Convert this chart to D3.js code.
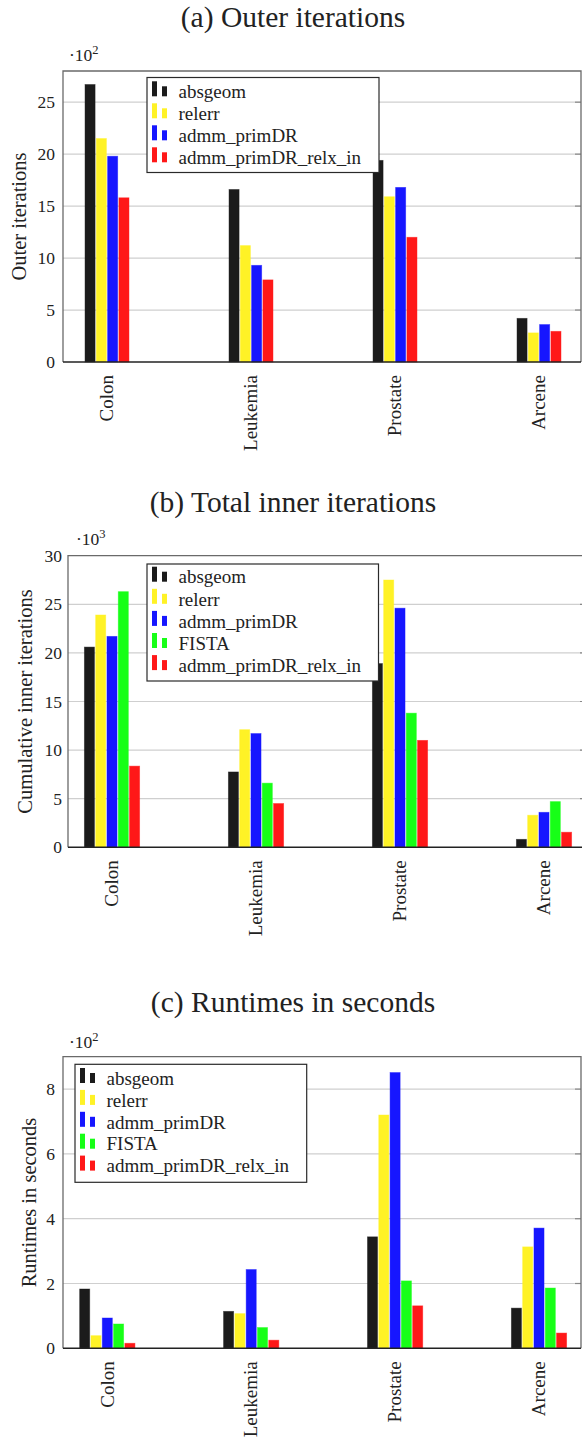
<!DOCTYPE html>
<html>
<head>
<meta charset="utf-8">
<script src="https://cdn.jsdelivr.net/npm/d3@7"></script>
<style>
  html, body { margin: 0; padding: 0; background: #fff; }
  svg text { font-family: "Liberation Serif", "Times New Roman", Times, "DejaVu Serif", serif; fill: #222; }
</style>
</head>
<body>
<svg id="fig" width="582" height="1443"></svg>
<script>
// ---------- data ----------
const categories = ["Colon", "Leukemia", "Prostate", "Arcene"];

const seriesOuter = ["absgeom", "relerr", "admm_primDR", "admm_primDR_relx_in"];
const seriesInner = ["absgeom", "relerr", "admm_primDR", "FISTA", "admm_primDR_relx_in"];
const seriesRuntime = ["absgeom", "relerr", "admm_primDR", "FISTA", "admm_primDR_relx_in"];

// (a) Outer iterations, in units of 10^2
const outerAbsgeom = [26.7, 16.6, 19.4, 4.2];
const outerRelerr = [21.5, 11.2, 15.9, 2.8];
const outerAdmm = [19.8, 9.3, 16.8, 3.6];
const outerRelx = [15.8, 7.9, 12.0, 2.95];

// (b) Total inner iterations, in units of 10^3
const innerAbsgeom = [20.6, 7.75, 18.9, 0.82];
const innerRelerr = [23.9, 12.1, 27.5, 3.3];
const innerAdmm = [21.7, 11.7, 24.6, 3.6];
const innerFista = [26.3, 6.6, 13.8, 4.7];
const innerRelx = [8.35, 4.5, 11.0, 1.55];

// (c) Runtimes in seconds, in units of 10^2
const runAbsgeom = [1.83, 1.14, 3.44, 1.24];
const runRelerr = [0.39, 1.07, 7.2, 3.13];
const runAdmm = [0.935, 2.43, 8.51, 3.71];
const runFista = [0.75, 0.64, 2.08, 1.86];
const runRelx = [0.155, 0.25, 1.31, 0.47];

const outerTicks = [0, 5, 10, 15, 20, 25];
const innerTicks = [0, 5, 10, 15, 20, 25, 30];
const runTicks = [0, 2, 4, 6, 8];

// ---------- styles ----------
const colorOf = {
  "absgeom": "#1b1b1b",
  "relerr": "#fff226",
  "admm_primDR": "#1616ff",
  "FISTA": "#17ff17",
  "admm_primDR_relx_in": "#ff1818"
};

const svg = d3.select("#fig");

function drawChart(cfg) {
  const g = svg.append("g");
  const { left, right, top, bottom } = cfg.frame;

  const y = d3.scaleLinear().domain([0, cfg.ymax]).range([bottom, top]);
  const x = d3.scalePoint().domain(categories).range(cfg.centers);
  const n = cfg.series.length;
  const step = 11.3;
  const inner = d3.scaleBand().domain(cfg.series)
    .range([-n * step / 2, n * step / 2]).paddingInner(0.11).paddingOuter(0.055);

  // title
  g.append("text").attr("x", 293).attr("y", cfg.titleY)
    .attr("text-anchor", "middle").style("font-size", "29.5px").text(cfg.title);

  // grid
  g.append("g").selectAll("line").data(cfg.ticks.filter(t => t > 0 && t < cfg.ymax)).join("line")
    .attr("x1", left).attr("x2", right)
    .attr("y1", d => y(d)).attr("y2", d => y(d))
    .attr("stroke", "#cfcfcf").attr("stroke-width", 1.2);

  // mirrored ticks on the right
  g.append("g").selectAll("line").data(cfg.ticks.filter(t => t > 0 && t < cfg.ymax)).join("line")
    .attr("x1", right - 6).attr("x2", right)
    .attr("y1", d => y(d)).attr("y2", d => y(d))
    .attr("stroke", "#888").attr("stroke-width", 1.2);

  // bars
  const barsG = g.append("g");
  cfg.series.forEach((s, si) => {
    barsG.append("g").selectAll("rect").data(cfg.values[si]).join("rect")
      .attr("x", (d, i) => x(categories[i]) + inner(s))
      .attr("width", inner.bandwidth())
      .attr("y", d => y(d))
      .attr("height", d => bottom - y(d))
      .attr("fill", colorOf[s])
      .attr("stroke", colorOf[s]).attr("stroke-opacity", 0.55).attr("stroke-width", 0.8);
  });

  // frame
  g.append("path")
    .attr("d", `M${left},${bottom}V${top}H${right}V${bottom}`)
    .attr("fill", "none").attr("stroke", "#6a6a6a").attr("stroke-width", 1.3);
  g.append("line").attr("x1", left).attr("x2", right).attr("y1", bottom).attr("y2", bottom)
    .attr("stroke", "#222").attr("stroke-width", 1.4);

  // y tick labels
  const yAxis = d3.axisLeft(y).tickValues(cfg.ticks).tickSize(0).tickPadding(cfg.tickPad)
    .tickFormat(d3.format("d"));
  const ya = g.append("g").attr("transform", `translate(${left},0)`).call(yAxis);
  ya.attr("font-family", null);
  ya.select(".domain").remove();
  ya.selectAll("text").style("font-size", "17.5px").attr("fill", "#222");

  // category labels
  g.append("g").selectAll("text").data(categories).join("text")
    .attr("transform", d => `translate(${x(d)},${bottom + cfg.catPad}) rotate(-90)`)
    .attr("text-anchor", "end").attr("dy", "0.33em")
    .style("font-size", "19px").text(d => d);

  // y label
  g.append("text")
    .attr("transform", `translate(${cfg.ylabelX},${(top + bottom) / 2}) rotate(-90)`)
    .attr("text-anchor", "middle").attr("dy", "0.33em")
    .style("font-size", "20.5px").text(cfg.ylabel);

  // scale multiplier
  const m = g.append("text").attr("x", cfg.mult[0]).attr("y", cfg.mult[1]).style("font-size", "17.5px");
  m.append("tspan").text("\u00B710");
  m.append("tspan").attr("dy", "-7").style("font-size", "12.5px").text(cfg.exp);

  // legend
  const L = cfg.legend;
  const lg = g.append("g");
  lg.append("rect").attr("x", L.x).attr("y", L.y).attr("width", L.w).attr("height", L.h)
    .attr("fill", "#fff").attr("stroke", "#2a2a2a").attr("stroke-width", 1.2);
  cfg.series.forEach((s, i) => {
    const cy = L.firstRow + i * L.rowStep;
    lg.append("rect").attr("x", L.x + 5).attr("y", cy - 11).attr("width", 5).attr("height", 15)
      .attr("fill", colorOf[s]);
    lg.append("rect").attr("x", L.x + 15).attr("y", cy - 6).attr("width", 5).attr("height", 10)
      .attr("fill", colorOf[s]);
    lg.append("text").attr("x", L.x + 31.5).attr("y", cy).attr("dy", "0.3em")
      .style("font-size", "19px").text(s);
  });
}

drawChart({
  title: "(a) Outer iterations", titleY: 27,
  frame: { left: 63, right: 581, top: 71, bottom: 362 },
  centers: [107, 539], ymax: 28, ticks: outerTicks, tickPad: 8,
  series: seriesOuter, values: [outerAbsgeom, outerRelerr, outerAdmm, outerRelx],
  catPad: 13, ylabel: "Outer iterations", ylabelX: 19,
  mult: [69, 61], exp: "2",
  legend: { x: 147, y: 77.5, w: 232, h: 95, firstRow: 92.3, rowStep: 22 }
});

drawChart({
  title: "(b) Total inner iterations", titleY: 512,
  frame: { left: 68, right: 586, top: 555.7, bottom: 847.3 },
  centers: [112, 544], ymax: 30, ticks: innerTicks, tickPad: 6,
  series: seriesInner, values: [innerAbsgeom, innerRelerr, innerAdmm, innerFista, innerRelx],
  catPad: 13, ylabel: "Cumulative inner iterations", ylabelX: 25,
  mult: [76, 545], exp: "3",
  legend: { x: 147, y: 564, w: 231.5, h: 117, firstRow: 577.7, rowStep: 22.1 }
});

drawChart({
  title: "(c) Runtimes in seconds", titleY: 1012,
  frame: { left: 63, right: 581, top: 1056.7, bottom: 1348.3 },
  centers: [107.3, 539], ymax: 9, ticks: runTicks, tickPad: 8,
  series: seriesRuntime, values: [runAbsgeom, runRelerr, runAdmm, runFista, runRelx],
  catPad: 13, ylabel: "Runtimes in seconds", ylabelX: 29,
  mult: [69, 1048], exp: "2",
  legend: { x: 75, y: 1064.3, w: 231.7, h: 118, firstRow: 1079, rowStep: 21.9 }
});
</script>
</body>
</html>
